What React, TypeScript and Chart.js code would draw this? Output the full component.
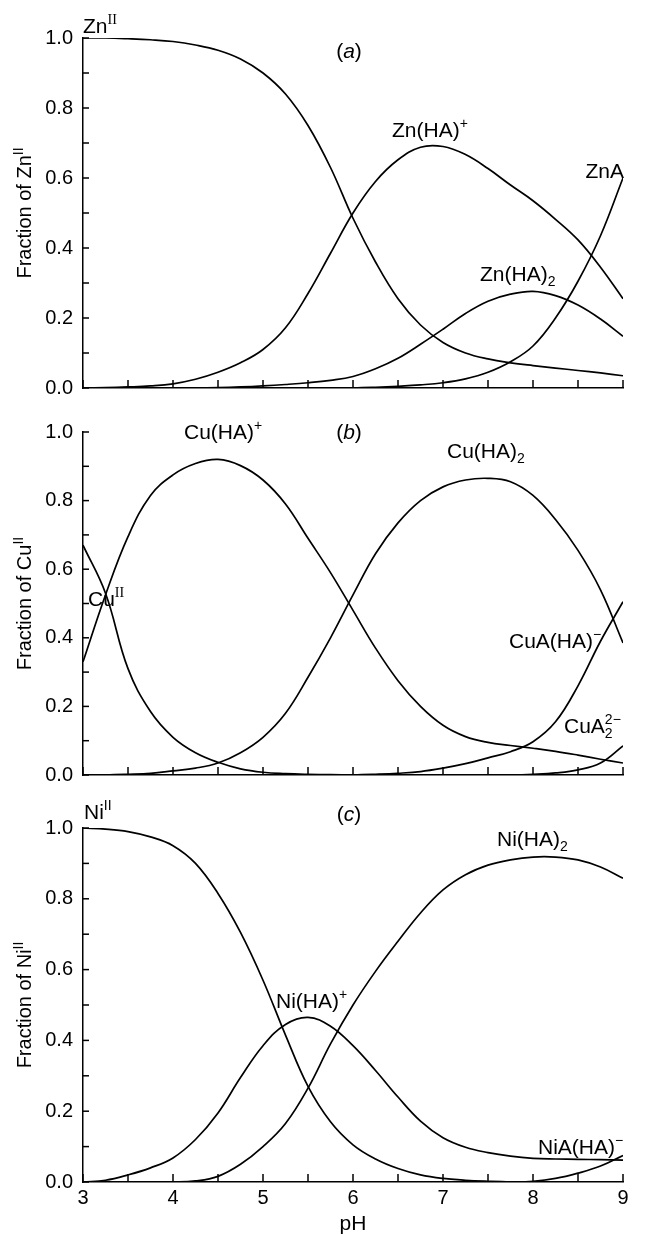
import React, { useEffect, useRef } from "react";
import { Chart, registerables } from "chart.js";

Chart.register(...registerables);

const SANS = '"Liberation Sans", Arial, sans-serif';
const SERIF = '"Liberation Serif", "Times New Roman", serif';

// pH grid (x values)
const PH = [3, 3.25, 3.5, 3.75, 4, 4.25, 4.5, 4.75, 5, 5.25, 5.5, 5.75, 6, 6.25, 6.5, 6.75, 7, 7.25, 7.5, 7.75, 8, 8.25, 8.5, 8.75, 9];
const X_TICKS = [3, 4, 5, 6, 7, 8, 9];
const Y_TICKS = [0, 0.2, 0.4, 0.6, 0.8, 1.0];

// Panel (a) Zn
const ZN_FREE = [1.0, 1.0, 0.998, 0.995, 0.99, 0.98, 0.965, 0.94, 0.9, 0.84, 0.75, 0.63, 0.485, 0.36, 0.255, 0.18, 0.13, 0.1, 0.083, 0.072, 0.064, 0.057, 0.05, 0.043, 0.035];
const ZN_HA = [0, 0.001, 0.003, 0.006, 0.012, 0.025, 0.045, 0.072, 0.11, 0.172, 0.27, 0.385, 0.5, 0.59, 0.652, 0.688, 0.69, 0.667, 0.627, 0.58, 0.535, 0.482, 0.423, 0.345, 0.255];
const ZN_HA2 = [0, 0, 0, 0, 0, 0, 0.001, 0.003, 0.006, 0.01, 0.015, 0.022, 0.033, 0.055, 0.085, 0.125, 0.168, 0.213, 0.248, 0.268, 0.276, 0.264, 0.237, 0.197, 0.148];
const ZN_A = [0, 0, 0, 0, 0, 0, 0, 0, 0, 0, 0, 0, 0, 0.002, 0.005, 0.009, 0.015, 0.026, 0.045, 0.075, 0.12, 0.2, 0.305, 0.435, 0.6];

// Panel (b) Cu
const CU_FREE = [0.67, 0.53, 0.31, 0.185, 0.11, 0.065, 0.037, 0.018, 0.008, 0.004, 0.002, 0.001, 0, 0, 0, 0, 0, 0, 0, 0, 0, 0, 0, 0, 0];
const CU_HA = [0.33, 0.525, 0.695, 0.815, 0.875, 0.908, 0.92, 0.902, 0.86, 0.79, 0.69, 0.59, 0.48, 0.37, 0.275, 0.2, 0.145, 0.112, 0.095, 0.086, 0.078, 0.069, 0.058, 0.046, 0.035];
const CU_HA2 = [0, 0, 0.002, 0.005, 0.012, 0.02, 0.035, 0.065, 0.11, 0.18, 0.285, 0.4, 0.525, 0.645, 0.735, 0.8, 0.84, 0.86, 0.865, 0.855, 0.815, 0.745, 0.655, 0.54, 0.385];
const CU_AHA = [0, 0, 0, 0, 0, 0, 0, 0, 0, 0, 0, 0, 0, 0.002, 0.005, 0.01, 0.02, 0.033, 0.05, 0.068, 0.097, 0.155, 0.26, 0.39, 0.505];
const CU_A2 = [0, 0, 0, 0, 0, 0, 0, 0, 0, 0, 0, 0, 0, 0, 0, 0, 0, 0, 0, 0, 0.002, 0.006, 0.015, 0.035, 0.085];

// Panel (c) Ni
const NI_FREE = [1.0, 0.997, 0.99, 0.975, 0.95, 0.9, 0.815, 0.705, 0.57, 0.415, 0.27, 0.17, 0.105, 0.065, 0.038, 0.02, 0.01, 0.005, 0.002, 0, 0, 0, 0, 0, 0];
const NI_HA = [0, 0.005, 0.02, 0.04, 0.068, 0.12, 0.195, 0.295, 0.385, 0.445, 0.465, 0.44, 0.385, 0.315, 0.24, 0.172, 0.125, 0.098, 0.083, 0.073, 0.067, 0.065, 0.064, 0.063, 0.062];
const NI_HA2 = [0, 0, 0, 0, 0, 0.003, 0.016, 0.05, 0.1, 0.165, 0.265, 0.39, 0.5, 0.595, 0.68, 0.76, 0.825, 0.868, 0.895, 0.91, 0.918, 0.918, 0.91, 0.89, 0.858];
const NI_AHA = [0, 0, 0, 0, 0, 0, 0, 0, 0, 0, 0, 0, 0, 0, 0, 0, 0, 0, 0, 0, 0.002, 0.01, 0.025, 0.045, 0.075];

type Seg = { t: string; k?: "sup" | "sub"; serif?: boolean; italic?: boolean; stay?: boolean };
type Label = { segs: Seg[]; x: number; y: number; align?: "left" | "center" | "right" };

const FS = 20;
const LS = 21;

function segFont(s: Seg, base: number) {
  const size = s.k ? Math.round(base * 0.68) : base;
  return `${s.italic ? "italic " : ""}${size}px ${s.serif ? SERIF : SANS}`;
}

function drawRich(ctx: CanvasRenderingContext2D, segs: Seg[], x: number, y: number, align: string, base: number) {
  let w = 0;
  for (const s of segs) {
    ctx.font = segFont(s, base);
    if (!s.stay) w += ctx.measureText(s.t).width;
  }
  let cx = align === "center" ? x - w / 2 : align === "right" ? x - w : x;
  ctx.textAlign = "left";
  ctx.textBaseline = "alphabetic";
  for (const s of segs) {
    ctx.font = segFont(s, base);
    const dy = s.k === "sup" ? -Math.round(base * 0.42) : s.k === "sub" ? Math.round(base * 0.25) : 0;
    ctx.fillText(s.t, cx, y + dy);
    if (!s.stay) cx += ctx.measureText(s.t).width;
  }
}

type Panel = {
  top: number;
  height: number;
  areaTop: number;
  areaBottom: number;
  series: number[][];
  showX: boolean;
  yTitle: Seg[];
  labels: Label[];
};

const PANELS: Panel[] = [
  {
    top: 0,
    height: 410,
    areaTop: 38,
    areaBottom: 391,
    series: [ZN_FREE, ZN_HA, ZN_HA2, ZN_A],
    showX: false,
    yTitle: [{ t: "Fraction of Zn" }, { t: "II", k: "sup" }],
    labels: [
      { segs: [{ t: "Zn" }, { t: "II", k: "sup", serif: true }], x: 83, y: 33 },
      { segs: [{ t: "(" }, { t: "a", italic: true }, { t: ")" }], x: 349, y: 58, align: "center" },
      { segs: [{ t: "Zn(HA)" }, { t: "+", k: "sup" }], x: 392, y: 137 },
      { segs: [{ t: "ZnA" }], x: 624, y: 178, align: "right" },
      { segs: [{ t: "Zn(HA)" }, { t: "2", k: "sub" }], x: 480, y: 281 },
    ],
  },
  {
    top: 410,
    height: 390,
    areaTop: 425,
    areaBottom: 775,
    series: [CU_FREE, CU_HA, CU_HA2, CU_AHA, CU_A2],
    showX: false,
    yTitle: [{ t: "Fraction of Cu" }, { t: "II", k: "sup" }],
    labels: [
      { segs: [{ t: "Cu(HA)" }, { t: "+", k: "sup" }], x: 184, y: 439 },
      { segs: [{ t: "(" }, { t: "b", italic: true }, { t: ")" }], x: 349, y: 439, align: "center" },
      { segs: [{ t: "Cu(HA)" }, { t: "2", k: "sub" }], x: 447, y: 458 },
      { segs: [{ t: "Cu" }, { t: "II", k: "sup", serif: true }], x: 88, y: 606 },
      { segs: [{ t: "CuA(HA)" }, { t: "\u2212", k: "sup" }], x: 509, y: 648 },
      { segs: [{ t: "CuA" }, { t: "2", k: "sub", stay: true }, { t: "2\u2212", k: "sup" }], x: 564, y: 733 },
    ],
  },
  {
    top: 800,
    height: 434,
    areaTop: 828,
    areaBottom: 1182,
    series: [NI_FREE, NI_HA, NI_HA2, NI_AHA],
    showX: true,
    yTitle: [{ t: "Fraction of Ni" }, { t: "II", k: "sup" }],
    labels: [
      { segs: [{ t: "Ni" }, { t: "II", k: "sup" }], x: 84, y: 819 },
      { segs: [{ t: "(" }, { t: "c", italic: true }, { t: ")" }], x: 349, y: 821, align: "center" },
      { segs: [{ t: "Ni(HA)" }, { t: "2", k: "sub" }], x: 497, y: 846 },
      { segs: [{ t: "Ni(HA)" }, { t: "+", k: "sup" }], x: 276, y: 1008 },
      { segs: [{ t: "NiA(HA)" }, { t: "\u2212", k: "sup" }], x: 538, y: 1154 },
      { segs: [{ t: "pH" }], x: 353, y: 1230, align: "center" },
    ],
  },
];

function PanelChart({ p }: { p: Panel }) {
  const ref = useRef<HTMLCanvasElement | null>(null);
  useEffect(() => {
    const canvas = ref.current;
    if (!canvas) return;
    const decor = {
      id: "decor",
      afterDraw(chart: any) {
        const ctx = chart.ctx as CanvasRenderingContext2D;
        const xs = chart.scales.x;
        const ys = chart.scales.y;
        const area = chart.chartArea;
        ctx.save();
        ctx.strokeStyle = "#000";
        ctx.fillStyle = "#000";
        ctx.lineWidth = 1.5;
        // inward tick marks
        for (let i = 0; i <= 10; i++) {
          const py = ys.getPixelForValue(i / 10);
          ctx.beginPath();
          ctx.moveTo(area.left, py);
          ctx.lineTo(area.left + 6, py);
          ctx.stroke();
        }
        for (let i = 0; i <= 12; i++) {
          const px = xs.getPixelForValue(3 + i * 0.5);
          ctx.beginPath();
          ctx.moveTo(px, area.bottom);
          ctx.lineTo(px, area.bottom - 8);
          ctx.stroke();
        }
        // y axis title
        const cy = (area.top + area.bottom) / 2;
        ctx.save();
        ctx.translate(24, cy);
        ctx.rotate(-Math.PI / 2);
        drawRich(ctx, p.yTitle, 0, 7, "center", FS);
        ctx.restore();
        // labels (page coordinates -> canvas coordinates)
        for (const l of p.labels) {
          drawRich(ctx, l.segs, l.x, l.y - p.top, l.align || "left", LS);
        }
        ctx.restore();
      },
    };
    const chart = new Chart(canvas, {
      type: "line",
      data: {
        datasets: p.series.map((s) => ({
          data: PH.map((x, i) => ({ x, y: s[i] })),
          borderColor: "#000",
          borderWidth: 1.7,
          pointRadius: 0,
          fill: false,
          tension: 0.4,
        })),
      },
      options: {
        animation: false,
        responsive: false,
        events: [],
        layout: { padding: { top: p.areaTop - p.top, right: 646 - 623, left: 0, bottom: 0 } },
        plugins: { legend: { display: false }, tooltip: { enabled: false }, title: { display: false } },
        scales: {
          x: {
            type: "linear",
            min: 3,
            max: 9,
            afterFit: (s: any) => {
              s.height = p.top + p.height - p.areaBottom;
            },
            afterBuildTicks: (s: any) => {
              s.ticks = X_TICKS.map((v) => ({ value: v }));
            },
            ticks: {
              display: p.showX,
              color: "#000",
              font: { size: FS, family: SANS },
              padding: 4,
              maxRotation: 0,
              autoSkip: false,
              callback: (v: any) => String(v),
            },
            grid: { display: false, drawTicks: false },
            border: { display: true, color: "#000", width: 1.5 },
          },
          y: {
            type: "linear",
            min: 0,
            max: 1,
            afterFit: (s: any) => {
              s.width = 83;
            },
            afterBuildTicks: (s: any) => {
              s.ticks = Y_TICKS.map((v) => ({ value: v }));
            },
            ticks: {
              color: "#000",
              font: { size: FS, family: SANS },
              padding: 10,
              callback: (v: any) => Number(v).toFixed(1),
            },
            grid: { display: false, drawTicks: false },
            border: { display: true, color: "#000", width: 1.5 },
          },
        },
      },
      plugins: [decor],
    });
    return () => chart.destroy();
  }, [p]);
  return (
    <canvas
      ref={ref}
      width={646}
      height={p.height}
      style={{ position: "absolute", left: 0, top: p.top, width: 646, height: p.height, display: "block" }}
    />
  );
}

export default function App() {
  return (
    <div style={{ position: "absolute", left: 0, top: 0, width: 646, height: 1234, background: "#fff" }}>
      {PANELS.map((p, i) => (
        <PanelChart key={i} p={p} />
      ))}
    </div>
  );
}
